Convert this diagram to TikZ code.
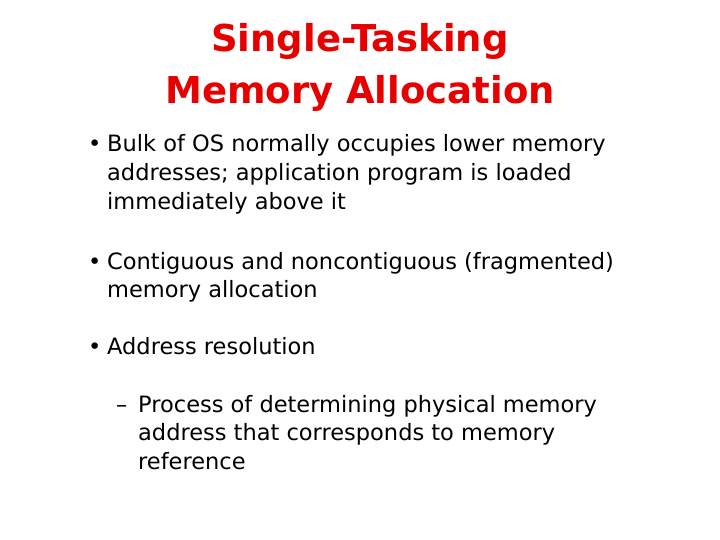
\documentclass[tikz,border=0pt]{standalone}
\usepackage{fontspec}
\setmainfont{DejaVu Sans}
\definecolor{titlered}{RGB}{230,0,0}
\begin{document}
\begin{tikzpicture}[x=1pt,y=-1pt,
  ttl/.style={text=titlered,font=\fontsize{37}{40}\selectfont\bfseries,anchor=base},
  txt/.style={anchor=base west,inner sep=0pt,font=\fontsize{22.5}{24}\selectfont}]
\useasboundingbox[fill=white] (0,0) rectangle (720,540);
\node[ttl] (t1) at (360,52) {Single-Tasking};
\node[ttl] (t2) at (360,104) {Memory Allocation};
\node[txt] (b1) at (88,152) {•};
\node[txt] (l1) at (107,152) {Bulk of OS normally occupies lower memory};
\node[txt] (l2) at (107,181) {addresses; application program is loaded};
\node[txt] (l3) at (107,210) {immediately above it};
\node[txt] (b2) at (88,269) {•};
\node[txt] (l4) at (107,269) {Contiguous and noncontiguous (fragmented)};
\node[txt] (l5) at (107,297) {memory allocation};
\node[txt] (b3) at (88,354) {•};
\node[txt] (l6) at (107,354) {Address resolution};
\node[txt] (d1) at (116,412) {–};
\node[txt] (l7) at (138,412) {Process of determining physical memory};
\node[txt] (l8) at (138,440) {address that corresponds to memory};
\node[txt] (l9) at (138,469) {reference};
\end{tikzpicture}
\end{document}
